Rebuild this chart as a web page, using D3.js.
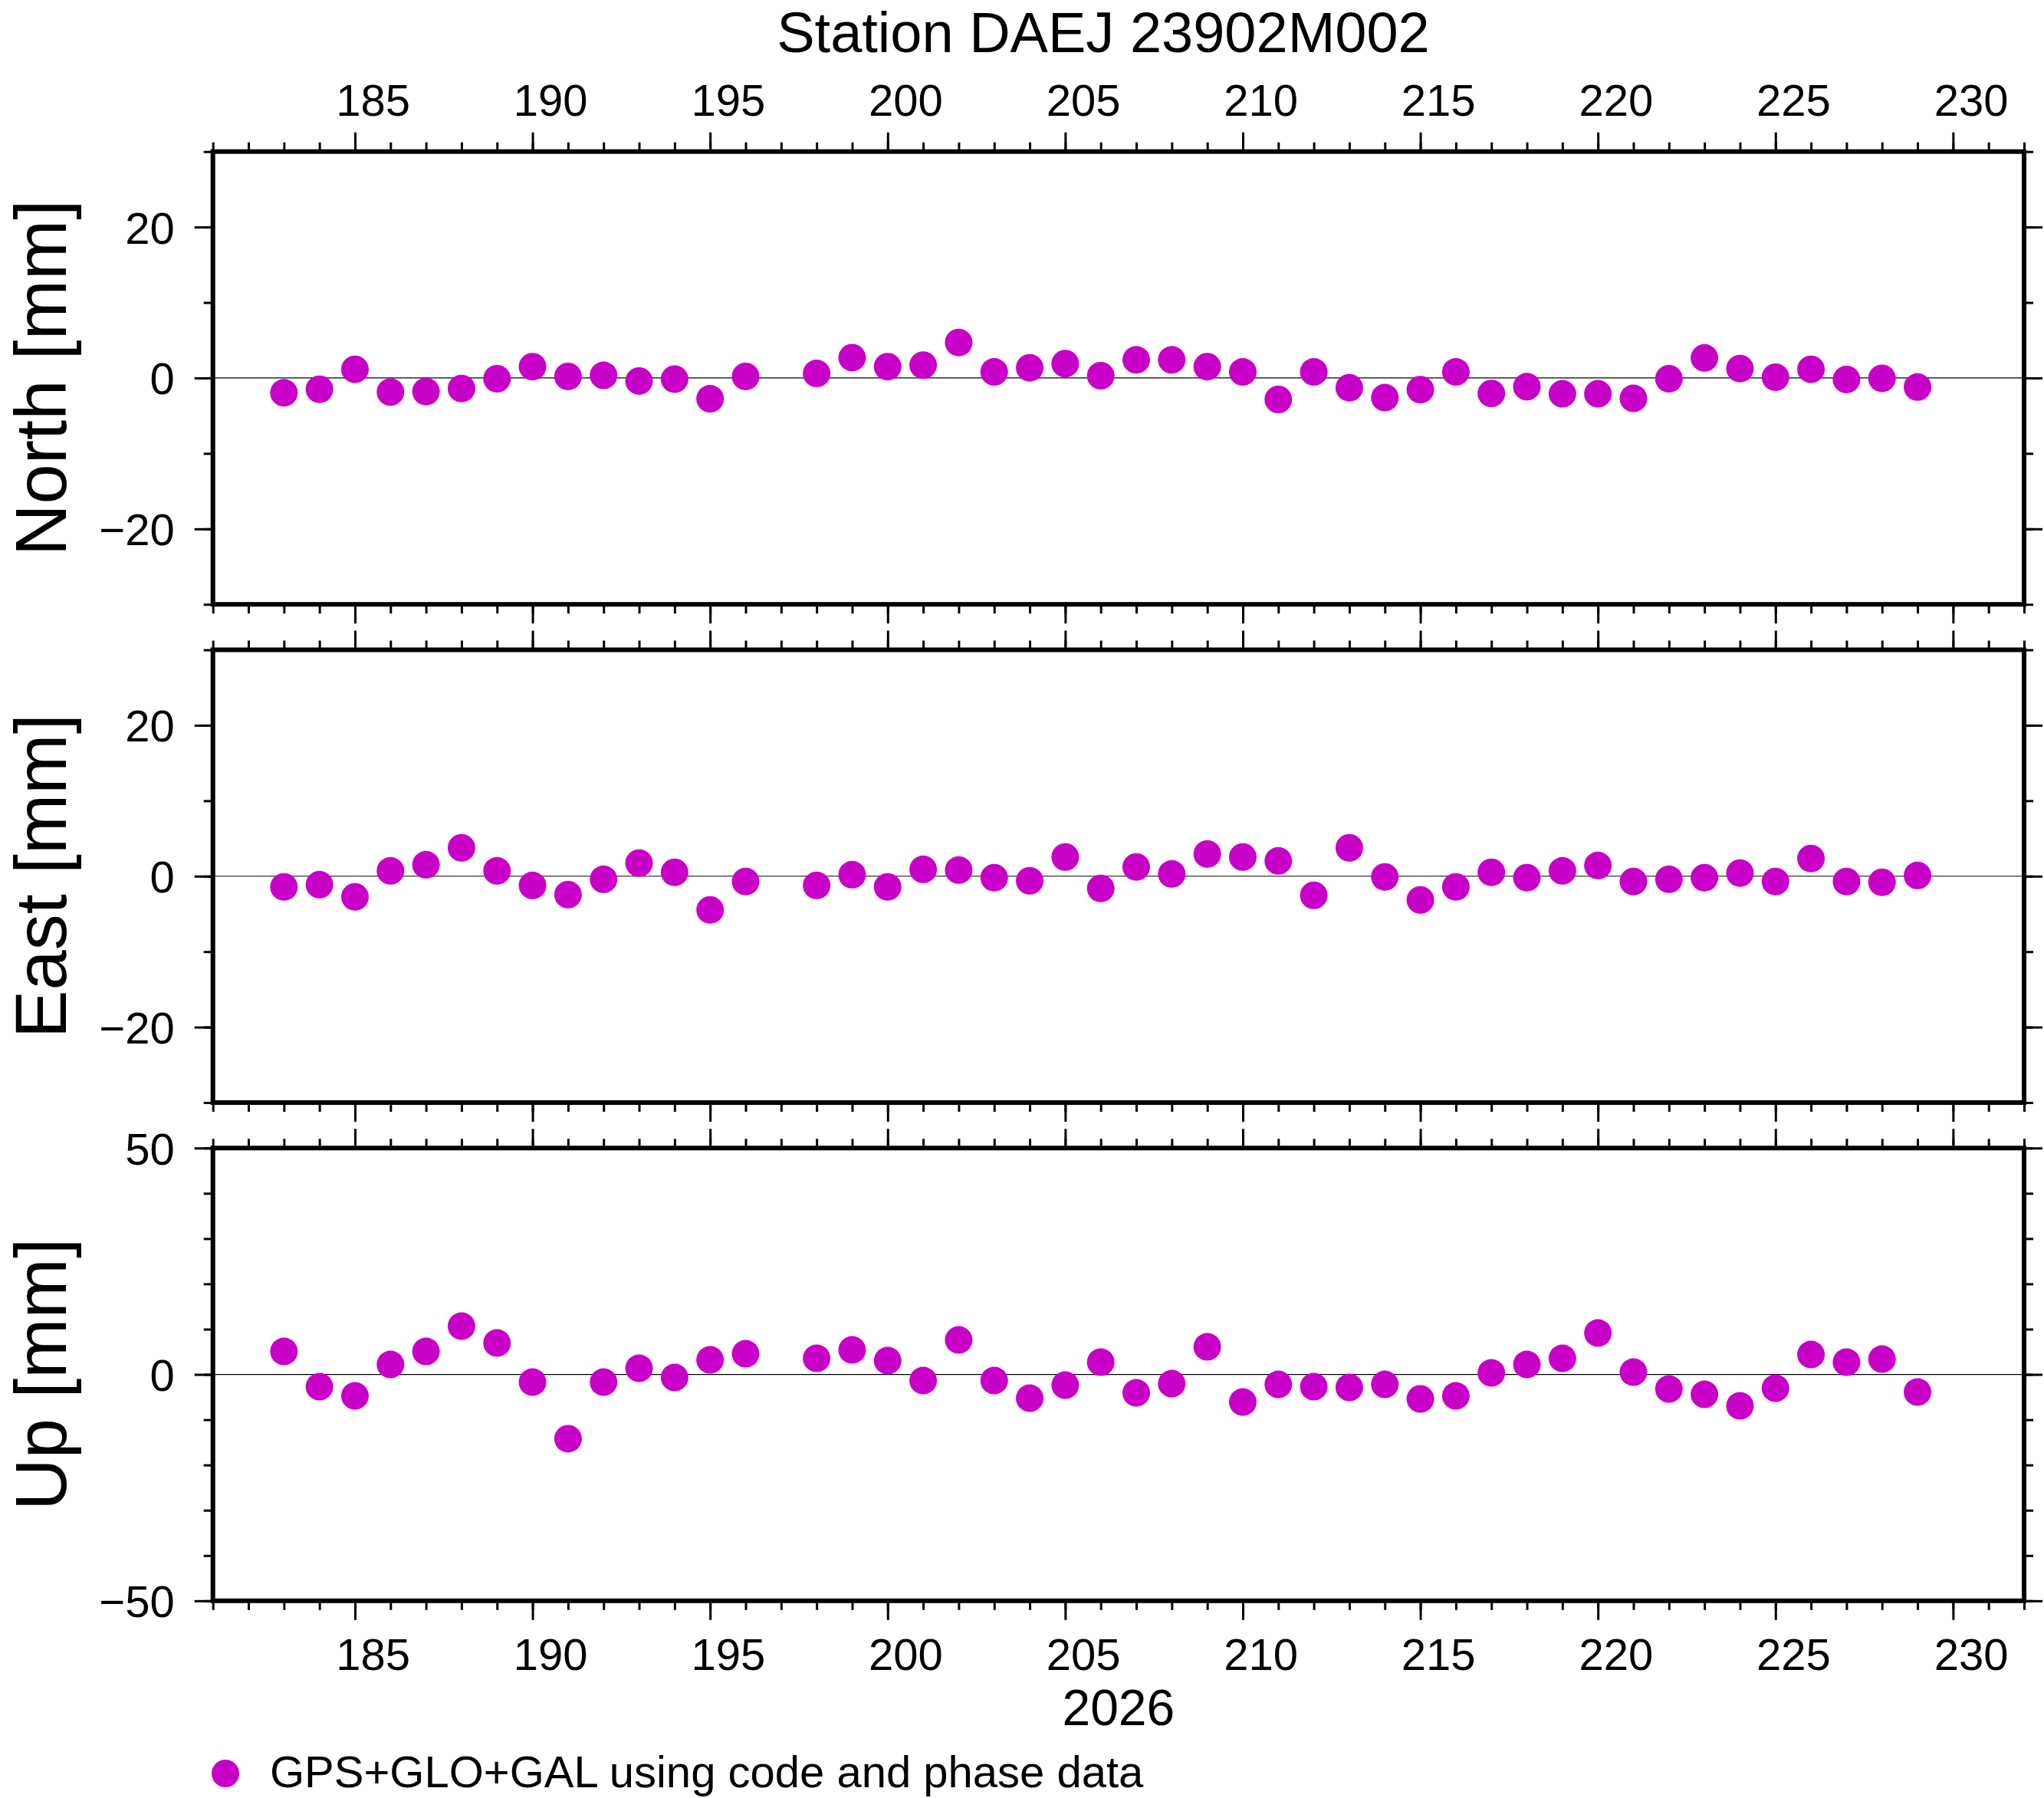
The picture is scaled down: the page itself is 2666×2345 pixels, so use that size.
<!DOCTYPE html>
<html><head><meta charset="utf-8">
<script src="https://cdn.jsdelivr.net/npm/d3@7"></script>
<style>
html,body{margin:0;padding:0;background:#fff;}
svg{display:block;}
text{font-family:"Liberation Sans",Arial,Helvetica,sans-serif;fill:#000;}
</style>
</head><body>
<svg id="c" width="2666" height="2345"></svg>
<script>
// ---- data ----
const days = [183,184,185,186,187,188,189,190,191,192,193,194,195,196,
  198,199,200,201,202,203,204,205,206,207,208,209,210,211,212,213,214,215,216,217,218,219,220,221,222,223,224,225,226,227,228,229];
const north = [-1.97,-1.5,1.15,-1.86,-1.8,-1.4,-0.1,1.5,0.2,0.35,-0.4,-0.15,-2.75,0.2,
  0.6,2.7,1.5,1.7,4.7,0.8,1.35,1.9,0.3,2.4,2.4,1.5,0.8,-2.85,0.8,-1.3,-2.6,-1.55,0.8,-2.05,-1.15,-2.1,-2.1,-2.7,-0.1,2.65,1.25,0.1,1.15,-0.2,-0.05,-1.2];
const east = [-1.42,-1.12,-2.74,0.71,1.52,3.76,0.71,-1.22,-2.44,-0.41,1.73,0.51,-4.47,-0.71,
  -1.22,0.2,-1.42,0.91,0.81,-0.2,-0.61,2.54,-1.62,1.22,0.30,2.94,2.54,2.03,-2.54,3.76,-0.1,-3.15,-1.42,0.51,-0.2,0.71,1.42,-0.71,-0.41,-0.2,0.41,-0.71,2.34,-0.71,-0.81,0.1];
const up = [5.08,-2.71,-4.74,2.2,5.08,10.66,6.94,-1.69,-14.2,-1.69,1.35,-0.68,3.21,4.57,
  3.55,5.41,3.05,-1.35,7.61,-1.35,-5.25,-2.37,2.71,-4.06,-2.03,6.09,-6.09,-2.2,-2.71,-2.88,-2.2,-5.41,-4.74,0.34,2.2,3.55,9.14,0.51,-3.21,-4.4,-6.94,-3.05,4.4,2.71,3.38,-3.89];
const xTickLabels = [185,190,195,200,205,210,215,220,225,230];
const neTickLabels = [-20,0,20];
const upTickLabels = [-50,0,50];
const titleText = "Station DAEJ 23902M002";
const yearText = "2026";
const legendText = "GPS+GLO+GAL using code and phase data";
const panelNames = ["North [mm]","East [mm]","Up [mm]"];

// ---- layout ----
const L = 277.7, R = 2640, PH = 590.5;
const tops = [197.7, 847.5, 1497.3];
const color = "#c800c8";
const svg = d3.select("#c");
const x = d3.scaleLinear().domain([181,232]).range([L,R]);
const xMinor = d3.range(181,233);
const halfDay = (x(182)-x(181))/2;
const fmt = d => d < 0 ? "\u2212" + Math.abs(d) : String(d);

const panels = [
  {name:panelNames[0], values:north, domain:[-30,30], major:neTickLabels, top:tops[0], topLabels:true, bottomLabels:false},
  {name:panelNames[1], values:east, domain:[-30,30], major:neTickLabels, top:tops[1], topLabels:false, bottomLabels:false},
  {name:panelNames[2], values:up, domain:[-50,50], major:upTickLabels, top:tops[2], topLabels:false, bottomLabels:true}
];

function addAxis(g, axis, transform, labels, fs){
  const a = g.append("g").attr("transform", transform).call(axis);
  a.select(".domain").remove();
  a.attr("font-family", null).attr("font-size", fs || 58);
  a.selectAll(".tick line").attr("stroke","#000").attr("stroke-width",3);
  if(!labels) a.selectAll(".tick text").remove();
  return a;
}

panels.forEach(p => {
  const y = d3.scaleLinear().domain(p.domain).range([p.top+PH, p.top]);
  const yMinor = d3.range(p.domain[0], p.domain[1]+1, 10);
  const g = svg.append("g");

  g.append("line").attr("x1",L).attr("x2",R).attr("y1",y(0)).attr("y2",y(0))
    .attr("stroke","#000").attr("stroke-width",1.2);

  g.selectAll("circle.pt").data(days.map((d,j)=>[d,p.values[j]])).join("circle")
    .attr("class","pt").attr("cx",d=>x(d[0])).attr("cy",d=>y(d[1])).attr("r",18).attr("fill",color);

  // x axes
  addAxis(g, d3.axisTop(x).tickValues(xMinor).tickSize(12), `translate(0,${p.top})`, false);
  const ta = addAxis(g, d3.axisTop(x).tickValues(xTickLabels).tickSize(25).tickPadding(22).tickFormat(d=>String(d)), `translate(0,${p.top})`, p.topLabels);
  ta.selectAll(".tick text").attr("x", halfDay);
  addAxis(g, d3.axisBottom(x).tickValues(xMinor).tickSize(12), `translate(0,${p.top+PH})`, false);
  const ba = addAxis(g, d3.axisBottom(x).tickValues(xTickLabels).tickSize(25).tickPadding(23.7).tickFormat(d=>String(d)), `translate(0,${p.top+PH})`, p.bottomLabels);
  ba.selectAll(".tick text").attr("x", halfDay);

  // y axes
  addAxis(g, d3.axisLeft(y).tickValues(yMinor).tickSize(12), `translate(${L},0)`, false);
  const la = addAxis(g, d3.axisLeft(y).tickValues(p.major).tickSize(24).tickPadding(26).tickFormat(fmt), `translate(${L},0)`, true);
  la.selectAll(".tick text").attr("dy","0.36em");
  addAxis(g, d3.axisRight(y).tickValues(yMinor).tickSize(12), `translate(${R},0)`, false);
  addAxis(g, d3.axisRight(y).tickValues(p.major).tickSize(24), `translate(${R},0)`, false);

  // frame
  g.append("rect").attr("x",L).attr("y",p.top).attr("width",R-L).attr("height",PH)
    .attr("fill","none").attr("stroke","#000").attr("stroke-width",6);

  // y label
  g.append("text").attr("transform",`translate(86,${p.top+PH/2}) rotate(-90)`)
    .attr("text-anchor","middle").attr("font-size",94).text(p.name);
});

svg.append("text").attr("x",1439).attr("y",68).attr("text-anchor","middle")
  .attr("font-size",74).text(titleText);
svg.append("text").attr("x",(L+R)/2).attr("y",2250).attr("text-anchor","middle")
  .attr("font-size",66).text(yearText);
svg.append("circle").attr("cx",294).attr("cy",2313).attr("r",18).attr("fill",color);
svg.append("text").attr("x",352).attr("y",2331).attr("font-size",58).text(legendText);
</script>
</body></html>
